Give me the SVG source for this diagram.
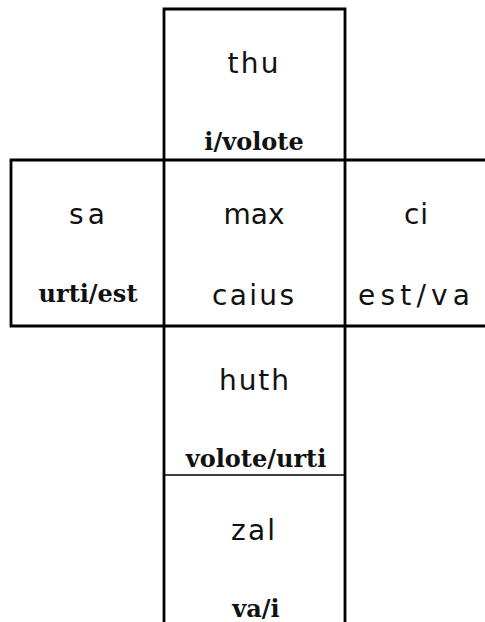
<svg xmlns="http://www.w3.org/2000/svg" width="485" height="622" viewBox="0 0 485 622">
<style>
.bg{fill:#ffffff}
.ln{stroke:#000;stroke-width:2.8;fill:none;stroke-linecap:square}
.thin{stroke:#000;stroke-width:1.6;fill:none}
.name{font-family:"DejaVu Sans","Noto Sans",sans-serif;font-size:28px;fill:#111;text-anchor:middle}
.pair{font-family:"DejaVu Serif","Liberation Serif",serif;font-size:24px;font-weight:bold;fill:#111;text-anchor:middle}
</style>
<rect class="bg" x="0" y="0" width="485" height="622"/>
<g id="grid">
  <path class="ln" d="M164,9 H345 M164,9 V622 M345,9 V622 M11,160 H485 M11,326 H485 M11,160 V326"/>
  <path class="thin" d="M164,475 H345"/>
</g>
<g id="thu">
  <text class="name" x="253" y="73" textLength="51" lengthAdjust="spacing">thu</text>
  <text class="pair" x="254" y="150">i/volote</text>
</g>
<g id="sa">
  <text class="name" x="87" y="224" textLength="36" lengthAdjust="spacing">sa</text>
  <text class="pair" x="88" y="302">urti/est</text>
</g>
<g id="max">
  <text class="name" x="254" y="224" textLength="61" lengthAdjust="spacing">max</text>
  <text class="name" x="253" y="305" textLength="82" lengthAdjust="spacing">caius</text>
</g>
<g id="ci">
  <text class="name" x="416" y="224" textLength="24" lengthAdjust="spacing">ci</text>
  <text class="name" x="414" y="305" textLength="112" lengthAdjust="spacing">est/va</text>
</g>
<g id="huth">
  <text class="name" x="254" y="390" textLength="70" lengthAdjust="spacing">huth</text>
  <text class="pair" x="256" y="467">volote/urti</text>
</g>
<g id="zal">
  <text class="name" x="253" y="540" textLength="44" lengthAdjust="spacing">zal</text>
  <text class="pair" x="256" y="617">va/i</text>
</g>
</svg>
